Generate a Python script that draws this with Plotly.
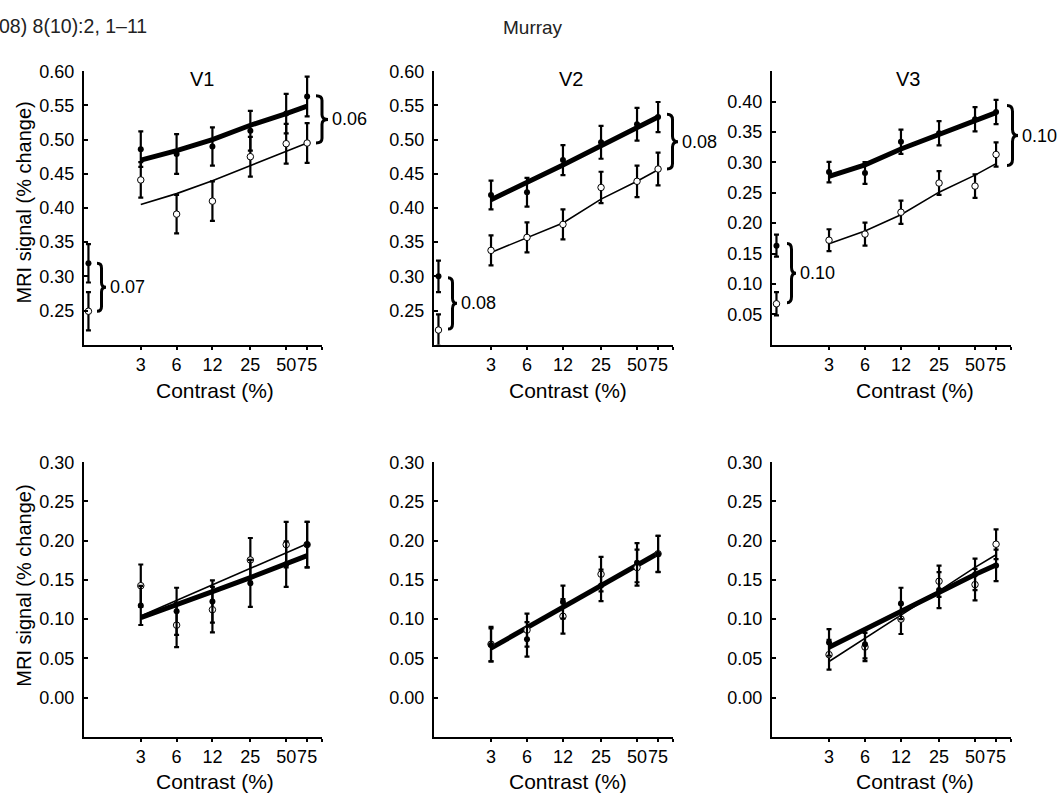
import plotly.graph_objects as go

W, H = 1058, 796

# ---------------- data ----------------
contrast = [3, 6, 12, 25, 50, 75]
tick_vals = [3, 6, 12, 25, 50, 75]
tick_text = ["3", "6", "12", "25", "50", "75"]
areas = ["V1", "V2", "V3"]

# top row (filled = thick fit, open = thin fit)
v1_filled = [0.486, 0.479, 0.490, 0.513, 0.538, 0.563]
v1_filled_err = [0.026, 0.029, 0.028, 0.029, 0.029, 0.029]
v1_open = [0.441, 0.391, 0.410, 0.475, 0.494, 0.495]
v1_open_err = [0.026, 0.028, 0.029, 0.029, 0.029, 0.029]
v1_fit_filled = [0.470, 0.484, 0.500, 0.521, 0.538, 0.549]
v1_fit_open = [0.405, 0.421, 0.440, 0.462, 0.482, 0.495]
v1_base = [0.319, 0.249]          # filled, open at 0% contrast
v1_base_err = [0.028, 0.028]

v2_filled = [0.419, 0.423, 0.470, 0.496, 0.5225, 0.533]
v2_filled_err = [0.021, 0.021, 0.022, 0.024, 0.024, 0.022]
v2_open = [0.338, 0.357, 0.376, 0.430, 0.439, 0.457]
v2_open_err = [0.022, 0.022, 0.022, 0.023, 0.023, 0.024]
v2_fit_filled = [0.412, 0.437, 0.463, 0.491, 0.518, 0.533]
v2_fit_open = [0.335, 0.356, 0.378, 0.413, 0.439, 0.456]
v2_base = [0.300, 0.2215]
v2_base_err = [0.023, 0.023]

v3_filled = [0.284, 0.2825, 0.334, 0.348, 0.371, 0.383]
v3_filled_err = [0.017, 0.018, 0.020, 0.020, 0.020, 0.020]
v3_open = [0.172, 0.182, 0.218, 0.266, 0.261, 0.313]
v3_open_err = [0.018, 0.019, 0.019, 0.0195, 0.0195, 0.020]
v3_fit_filled = [0.277, 0.296, 0.322, 0.346, 0.368, 0.382]
v3_fit_open = [0.166, 0.187, 0.214, 0.251, 0.279, 0.298]
v3_base = [0.163, 0.0674]
v3_base_err = [0.018, 0.019]

# bottom row
b1_filled = [0.1175, 0.110, 0.1225, 0.1456, 0.170, 0.195]
b1_filled_err = [0.025, 0.030, 0.027, 0.030, 0.029, 0.029]
b1_open = [0.1426, 0.0923, 0.112, 0.1754, 0.195, 0.195]
b1_open_err = [0.027, 0.028, 0.029, 0.028, 0.029, 0.029]
b1_fit_filled = [0.102, 0.118, 0.135, 0.153, 0.170, 0.181]
b1_fit_open = [0.104, 0.124, 0.144, 0.165, 0.185, 0.196]

b2_filled = [0.067, 0.0742, 0.1217, 0.143, 0.172, 0.183]
b2_filled_err = [0.021, 0.022, 0.021, 0.020, 0.025, 0.023]
b2_open = [0.068, 0.086, 0.1036, 0.1573, 0.1657, 0.1833]
b2_open_err = [0.022, 0.021, 0.022, 0.022, 0.023, 0.023]
b2_fit_filled = [0.063, 0.089, 0.115, 0.143, 0.169, 0.184]
b2_fit_open = [0.064, 0.090, 0.116, 0.143, 0.169, 0.185]

b3_filled = [0.0703, 0.068, 0.120, 0.137, 0.157, 0.1685]
b3_filled_err = [0.017, 0.018, 0.020, 0.023, 0.020, 0.020]
b3_open = [0.0547, 0.0644, 0.100, 0.1483, 0.144, 0.1955]
b3_open_err = [0.019, 0.018, 0.019, 0.020, 0.020, 0.019]
b3_fit_filled = [0.064, 0.087, 0.110, 0.134, 0.157, 0.169]
b3_fit_open = [0.046, 0.075, 0.105, 0.136, 0.166, 0.182]

# brace annotations (top row): [low, high] value span and label
brace_right_span = [[0.495, 0.564], [0.457, 0.537], [0.295, 0.3935]]
brace_right_label = ["0.06", "0.08", "0.10"]
brace_left_span = [[0.249, 0.319], [0.223, 0.298], [0.069, 0.1665]]
brace_left_label = ["0.07", "0.08", "0.10"]

top_ranges = [[0.2, 0.6], [0.2, 0.6], [0.0, 0.45]]
top_ticks = [[0.25, 0.30, 0.35, 0.40, 0.45, 0.50, 0.55, 0.60],
             [0.25, 0.30, 0.35, 0.40, 0.45, 0.50, 0.55, 0.60],
             [0.05, 0.10, 0.15, 0.20, 0.25, 0.30, 0.35, 0.40]]
bottom_range = [-0.05, 0.30]
bottom_ticks = [0.00, 0.05, 0.10, 0.15, 0.20, 0.25, 0.30]

# ---------------- layout geometry (pixels) ----------------
col_px = [(84, 322), (434, 673), (772, 1011)]
row_px = [(62, 339), (458, 736)]
BASELINE_X = 1.09   # plotting position of the 0% contrast condition

def px2x(p):
    return p / W

def py2y(p):
    return 1 - p / H

FONT = "Liberation Sans, Arial, Helvetica, sans-serif"
NARROW = "Liberation Sans Narrow, Arial Narrow, Liberation Sans, sans-serif"

fig = go.Figure()

top_sets = [
    (v1_filled, v1_filled_err, v1_open, v1_open_err, v1_fit_filled, v1_fit_open, v1_base, v1_base_err),
    (v2_filled, v2_filled_err, v2_open, v2_open_err, v2_fit_filled, v2_fit_open, v2_base, v2_base_err),
    (v3_filled, v3_filled_err, v3_open, v3_open_err, v3_fit_filled, v3_fit_open, v3_base, v3_base_err),
]
bottom_sets = [
    (b1_filled, b1_filled_err, b1_open, b1_open_err, b1_fit_filled, b1_fit_open),
    (b2_filled, b2_filled_err, b2_open, b2_open_err, b2_fit_filled, b2_fit_open),
    (b3_filled, b3_filled_err, b3_open, b3_open_err, b3_fit_filled, b3_fit_open),
]

def add_panel(idx, filled, ferr, opn, oerr, fitf, fito, base=None, base_err=None):
    xa = "x" if idx == 1 else f"x{idx}"
    ya = "y" if idx == 1 else f"y{idx}"
    fig.add_trace(go.Scatter(x=contrast, y=fito, mode="lines", xaxis=xa, yaxis=ya,
                             line=dict(color="black", width=1.6), showlegend=False, hoverinfo="skip"))
    fig.add_trace(go.Scatter(x=contrast, y=fitf, mode="lines", xaxis=xa, yaxis=ya,
                             line=dict(color="black", width=5), showlegend=False, hoverinfo="skip"))
    xs = list(contrast)
    fy, fe, oy, oe = list(filled), list(ferr), list(opn), list(oerr)
    if base is not None:
        xs = [BASELINE_X] + xs
        fy = [base[0]] + fy
        fe = [base_err[0]] + fe
        oy = [base[1]] + oy
        oe = [base_err[1]] + oe
    eb = dict(type="data", visible=True, color="black", thickness=2.2, width=2.5)
    fig.add_trace(go.Scatter(x=xs, y=oy, mode="markers", xaxis=xa, yaxis=ya,
                             error_y=dict(array=oe, **eb),
                             marker=dict(symbol="circle", size=6.5, color="white",
                                         line=dict(color="black", width=1)),
                             showlegend=False))
    fig.add_trace(go.Scatter(x=xs, y=fy, mode="markers", xaxis=xa, yaxis=ya,
                             error_y=dict(array=fe, **eb),
                             marker=dict(symbol="circle", size=6, color="black"),
                             showlegend=False))

for c in range(3):
    add_panel(c + 1, *top_sets[c])
    add_panel(c + 4, *bottom_sets[c])

layout = dict(width=W, height=H, paper_bgcolor="white", plot_bgcolor="white",
              margin=dict(l=0, r=0, t=0, b=0), showlegend=False,
              font=dict(family=FONT, size=18, color="black"))

for r in range(2):
    for c in range(3):
        idx = r * 3 + c + 1
        xk = "xaxis" if idx == 1 else f"xaxis{idx}"
        yk = "yaxis" if idx == 1 else f"yaxis{idx}"
        ya = "y" if idx == 1 else f"y{idx}"
        xa = "x" if idx == 1 else f"x{idx}"
        x0, x1 = col_px[c]
        y0, y1 = row_px[r]
        layout[xk] = dict(domain=[px2x(x0), px2x(x1)], anchor=ya, type="log", range=[0, 2],
                          tickmode="array", tickvals=tick_vals + [100], ticktext=tick_text + [""],
                          tickangle=0,
                          ticks="outside", ticklen=3, tickwidth=1.5, tickcolor="black",
                          showline=True, linecolor="black", linewidth=2,
                          showgrid=False, zeroline=False, fixedrange=True,
                          tickfont=dict(size=18, family=FONT, color="black"))
        if r == 0:
            yr, yt = top_ranges[c], top_ticks[c]
        else:
            yr, yt = bottom_range, bottom_ticks
        layout[yk] = dict(domain=[py2y(y1), py2y(y0)], anchor=xa, range=yr,
                          tickmode="array", tickvals=yt, ticktext=[f"{v:.2f}" for v in yt],
                          ticks="inside", ticklen=4, tickwidth=1.5, tickcolor="black",
                          ticklabelstandoff=4,
                          showline=True, linecolor="black", linewidth=2,
                          showgrid=False, zeroline=False, fixedrange=True,
                          tickfont=dict(size=18, family=FONT, color="black"))

fig.update_layout(**layout)

annotations = []
shapes = []

# header
annotations.append(dict(text="08) 8(10):2, 1–11", x=px2x(-3), y=py2y(16), xref="paper", yref="paper",
                        xanchor="left", yanchor="middle", showarrow=False,
                        font=dict(family=NARROW, size=19.5, color="#222")))
annotations.append(dict(text="Murray", x=px2x(533), y=py2y(18), xref="paper", yref="paper",
                        xanchor="center", yanchor="middle", showarrow=False,
                        font=dict(family=NARROW, size=19, color="#222")))

# panel titles
title_px = [(202, 70), (571, 70), (908, 70)]
for c in range(3):
    annotations.append(dict(text=areas[c], x=px2x(title_px[c][0]), y=py2y(title_px[c][1]),
                            xref="paper", yref="paper", xanchor="center", yanchor="middle",
                            showarrow=False, font=dict(family=FONT, size=20, color="black")))

# axis titles
xtitle_x = [215, 568, 915]
xtitle_y = [385, 781]
for r in range(2):
    for c in range(3):
        annotations.append(dict(text="Contrast (%)", x=px2x(xtitle_x[c]), y=py2y(xtitle_y[r]),
                                xref="paper", yref="paper", xanchor="center", yanchor="middle",
                                showarrow=False, font=dict(family=FONT, size=21, color="black")))
for ycen in [195, 583]:
    annotations.append(dict(text="MRI signal (% change)", x=px2x(24), y=py2y(ycen),
                            xref="paper", yref="paper", xanchor="center", yanchor="middle",
                            textangle=-90, showarrow=False,
                            font=dict(family=FONT, size=20, color="black")))

# braces
def brace(xl, xr, lo, hi, yref):
    xm = (xl + xr) / 2
    ym = (lo + hi) / 2
    h = (hi - lo) * 0.1
    p = (f"M {xl},{hi} Q {xm},{hi} {xm},{hi - h} L {xm},{ym + h} "
         f"Q {xm},{ym} {xr},{ym} Q {xm},{ym} {xm},{ym - h} "
         f"L {xm},{lo + h} Q {xm},{lo} {xl},{lo}")
    return dict(type="path", path=p, xref="paper", yref=yref,
                line=dict(color="black", width=3))

right_brace_px = [(316, 328), (667, 678), (1007, 1018)]
left_brace_px = [(97, 106), (448, 457), (787, 796)]
for c in range(3):
    yref = "y" if c == 0 else f"y{c + 1}"
    for spans, labels, pxs in [(brace_right_span, brace_right_label, right_brace_px),
                               (brace_left_span, brace_left_label, left_brace_px)]:
        lo, hi = spans[c]
        xl, xr = pxs[c]
        shapes.append(brace(px2x(xl), px2x(xr), lo, hi, yref))
        annotations.append(dict(text=labels[c], x=px2x(xr + 2), y=(lo + hi) / 2,
                                xref="paper", yref=yref, xanchor="left", yanchor="middle",
                                showarrow=False, font=dict(family=FONT, size=18, color="black")))

fig.update_layout(annotations=annotations, shapes=shapes)
fig.write_html("out.html", config={"displayModeBar": False},
               post_script="document.body.style.margin='0px';document.body.style.overflow='hidden';")
